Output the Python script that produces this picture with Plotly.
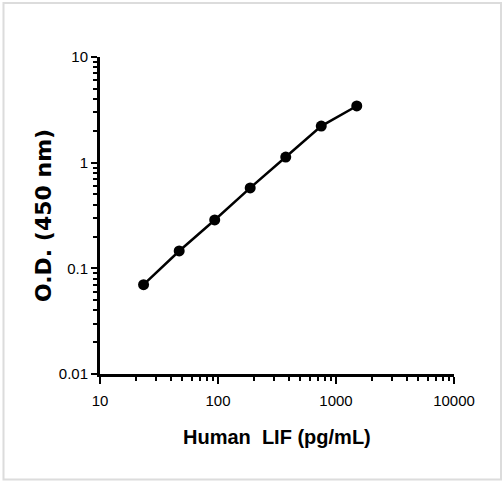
import plotly.graph_objects as go

conc = [23.4, 46.9, 93.8, 187.5, 375, 750, 1500]
od = [0.070, 0.146, 0.287, 0.577, 1.13, 2.22, 3.44]

x_ticks = [10, 100, 1000, 10000]
x_tick_labels = ["10", "100", "1000", "10000"]
y_ticks = [0.01, 0.1, 1, 10]
y_tick_labels = ["0.01", "0.1", "1", "10"]

x_minor = [m * d for d in [10, 100, 1000] for m in range(2, 10)]
y_minor = [m * d for d in [0.01, 0.1, 1] for m in range(2, 10)]

W, H = 504, 481
L, R, T, B = 100, 50, 57, 107
pw, ph = W - L - R, H - T - B

def px(x):
    return (x - L) / pw

def py(y):
    return (H - B - y) / ph

tick_font = dict(family="Liberation Sans Narrow, Liberation Sans, Arial", size=15, color="black")

fig = go.Figure()
fig.add_trace(go.Scatter(
    x=conc, y=od, mode="lines+markers",
    line=dict(color="black", width=2.5),
    marker=dict(color="black", size=11),
    showlegend=False,
))

fig.update_xaxes(
    type="log", range=[1, 4], showgrid=False, zeroline=False,
    showline=True, linecolor="black", linewidth=3,
    ticks="outside", ticklen=7, tickwidth=2, tickcolor="black",
    tickmode="array", tickvals=x_ticks, ticktext=x_tick_labels,
    tickfont=tick_font, ticklabelstandoff=4,
    minor=dict(ticks="outside", ticklen=4, tickwidth=2, tickcolor="black", tickvals=x_minor, showgrid=False),
)
fig.update_yaxes(
    type="log", range=[-2, 1], showgrid=False, zeroline=False,
    showline=True, linecolor="black", linewidth=3,
    ticks="outside", ticklen=6, tickwidth=2, tickcolor="black",
    tickmode="array", tickvals=y_ticks, ticktext=y_tick_labels,
    tickfont=tick_font,
    minor=dict(ticks="outside", ticklen=4, tickwidth=2, tickcolor="black", tickvals=y_minor, showgrid=False),
)

fig.add_annotation(
    text="Human  LIF (pg/mL)", xref="paper", yref="paper",
    x=px(277), y=py(437), showarrow=False,
    font=dict(family="Liberation Sans Narrow, Liberation Sans, Arial", size=20, color="black", weight="bold"),
    xanchor="center", yanchor="middle",
)
fig.add_annotation(
    text="O.D. (450 nm)", xref="paper", yref="paper",
    x=px(43), y=py(216), showarrow=False, textangle=-90,
    font=dict(family="DejaVu Sans, Verdana", size=22, color="black", weight="bold"),
    xanchor="center", yanchor="middle",
)

fig.add_shape(
    type="rect", xref="paper", yref="paper",
    x0=px(3.5), x1=px(501), y0=py(479.5), y1=py(3),
    line=dict(color="#dcdcdc", width=2), fillcolor="rgba(0,0,0,0)", layer="below",
)

fig.update_layout(
    width=W, height=H,
    margin=dict(l=L, r=R, t=T, b=B, pad=0),
    paper_bgcolor="white", plot_bgcolor="white",
)

fig.write_html(
    "out.html",
    config={"displayModeBar": False},
    post_script="document.body.style.margin='0';document.body.style.overflow='hidden';",
)
